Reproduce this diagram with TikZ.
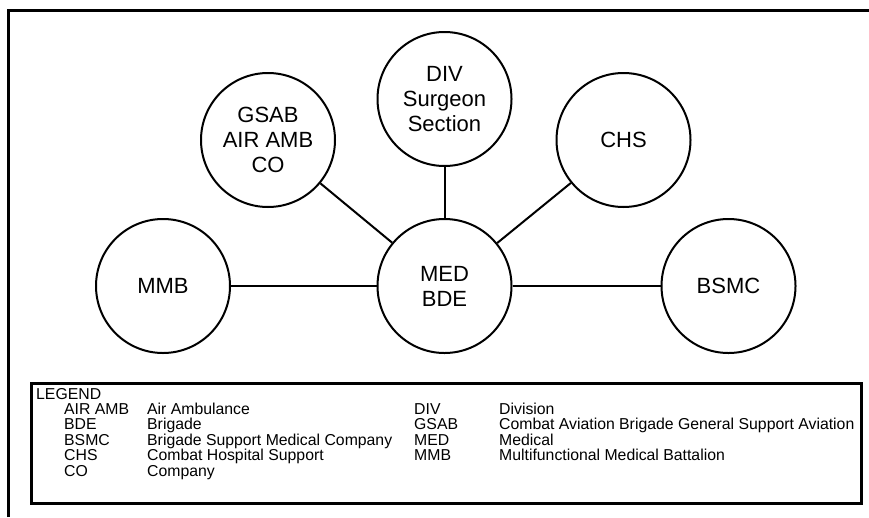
\documentclass[tikz,border=0pt]{standalone}
\usepackage{fontspec}
\setmainfont{Liberation Sans}
\begin{document}
\begin{tikzpicture}[x=1pt,y=-1pt,
  unit/.style={circle,draw,line width=2pt,minimum size=134pt,inner sep=0pt,align=center,font=\fontsize{22}{25}\selectfont},
  link/.style={line width=2pt},
  legtxt/.style={anchor=base west,inner sep=0pt,font=\fontsize{15.8}{15.5}\selectfont}]
\useasboundingbox (0,0) rectangle (869,517);
\draw[line width=3pt] (8,517) -- (8,10) -- (869,10);
% units
\node[unit] (mmb) at (163,286) {MMB};
\node[unit] (med) at (444.5,286) {MED\\BDE};
\node[unit] (gsab) at (268,140) {GSAB\\AIR AMB\\CO};
\node[unit] (div) at (444.5,99) {DIV\\Surgeon\\Section};
\node[unit] (chs) at (623.5,140) {CHS};
\node[unit] (bsmc) at (728.5,286) {BSMC};
\draw[link] (mmb) -- (med);
\draw[link] (med) -- (bsmc);
\draw[link] (med) -- (div);
\draw[link] (med) -- (gsab);
\draw[link] (med) -- (chs);
% legend
\node[draw,line width=2.5pt,minimum width=830pt,minimum height=120pt,anchor=north west,inner sep=0pt] (legbox) at (30,382) {};
\node[legtxt] (leg) at (36,399) {LEGEND};
\node[legtxt] (a1) at (64,414) {AIR AMB};
\node[legtxt] (a2) at (64,429.5) {BDE};
\node[legtxt] (a3) at (64,445) {BSMC};
\node[legtxt] (a4) at (64,460.5) {CHS};
\node[legtxt] (a5) at (64,476) {CO};
\node[legtxt] (d1) at (147,414) {Air Ambulance};
\node[legtxt] (d2) at (147,429.5) {Brigade};
\node[legtxt] (d3) at (147,445) {Brigade Support Medical Company};
\node[legtxt] (d4) at (147,460.5) {Combat Hospital Support};
\node[legtxt] (d5) at (147,476) {Company};
\node[legtxt] (b1) at (414,414) {DIV};
\node[legtxt] (b2) at (414,429.5) {GSAB};
\node[legtxt] (b3) at (414,445) {MED};
\node[legtxt] (b4) at (414,460.5) {MMB};
\node[legtxt] (e1) at (499,414) {Division};
\node[legtxt] (e2) at (499,429.5) {Combat Aviation Brigade General Support Aviation};
\node[legtxt] (e3) at (499,445) {Medical};
\node[legtxt] (e4) at (499,460.5) {Multifunctional Medical Battalion};
\end{tikzpicture}
\end{document}
